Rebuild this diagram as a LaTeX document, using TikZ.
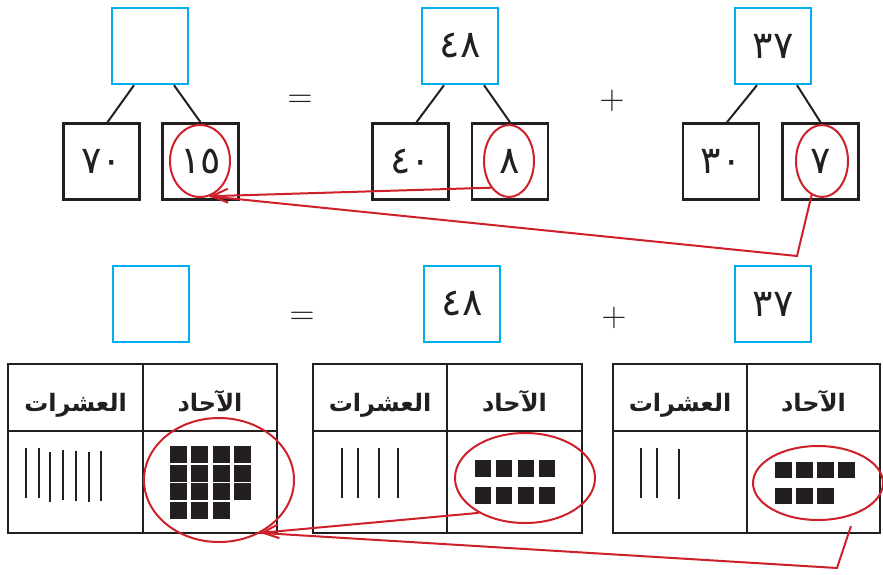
\documentclass[tikz,border=0pt]{standalone}
\usepackage{fontspec}
\usetikzlibrary{arrows.meta,calc,shapes.geometric}
\TeXXeTstate=1
\newfontfamily\arabicfont[Script=Arabic]{DejaVu Sans}
\definecolor{boxblue}{RGB}{0,174,239}
\definecolor{markred}{RGB}{206,32,41}
\definecolor{inkblack}{RGB}{35,31,32}

\begin{document}
\begin{tikzpicture}[x=0.5pt,y=-0.5pt,
  sumbox/.style={draw=boxblue,line width=1.2pt,minimum size=38pt,inner sep=0pt,text=inkblack,font=\arabicfont\fontsize{19}{22}\selectfont},
  partbox/.style={sumbox,draw=inkblack,line width=1.3pt},
  ring/.style={ellipse,draw=markred,line width=1pt,inner sep=0pt},
  link/.style={draw=markred,line width=1pt},
  arr/.style={link,-{Straight Barb[length=8pt,width=7pt]}},
  stem/.style={draw=inkblack,line width=1pt},
  tablerule/.style={draw=inkblack,line width=1.2pt},
  head/.style={anchor=base,inner sep=0pt,font=\arabicfont\bfseries\fontsize{12}{15}\selectfont,text=inkblack},
  sign/.style={font=\fontsize{16}{16}\selectfont,text=inkblack}]
  \useasboundingbox (0,0) rectangle (883,574);

  % top row: number bonds
  \node[sumbox] (sum) at (150,46) {};
  \node[sumbox] (b48) at (460,46) {٤٨};
  \node[sumbox] (b37) at (773,46) {٣٧};
  \node[partbox] (t70) at (101.5,161.5) {٧٠};
  \node[partbox] (t15) at (200.5,161.5) {١٥};
  \node[partbox] (t40) at (410.5,161.5) {٤٠};
  \node[partbox] (t8) at (510,161.5) {٨};
  \node[partbox] (t30) at (721,161.5) {٣٠};
  \node[partbox] (t7) at (820.5,161.5) {٧};
  \node[sign] (eqtop) at (300,101) {$=$};
  \node[sign] (pltop) at (612,101) {$+$};
  \foreach \s/\a/\b in {sum/t70/t15, b48/t40/t8, b37/t30/t7} {
    \draw[stem] ($(\s.south)+(-16,0)$) -- ($(\a.north)+(6,0)$);
    \draw[stem] ($(\s.south)+(24,0)$) -- ($(\b.north)+(0,0)$);
  }
  \node[ring,minimum width=30pt,minimum height=36pt] (o15) at (200,161) {};
  \node[ring,minimum width=25pt,minimum height=36pt] (o8) at (509,161) {};
  \node[ring,minimum width=26pt,minimum height=36pt] (o7) at (822,161) {};

  % bottom row: place value tables
  \node[sumbox] (sumb) at (151,304) {};
  \node[sumbox] (b48b) at (462,304) {٤٨};
  \node[sumbox] (b37b) at (773,304) {٣٧};
  \node[sign] (eqbot) at (302,318) {$=$};
  \node[sign] (plbot) at (614,318) {$+$};
  \foreach \l/\m/\r in {8/143/277, 313/447/582, 613/747/880} {
    \draw[tablerule] (\l,364) rectangle (\r,533) (\m,364) -- (\m,533) (\l,431) -- (\r,431);
    \node[head] (tens\l) at ({(\l+\m)/2},411) {\beginR العشرات\endR};
    \node[head] (ones\l) at ({(\m+\r)/2},411) {\beginR الآحاد\endR};
  }
  % tens rods
  \foreach \x/\y in {26/448, 39/448, 50/452, 63/450, 76/451, 89/452, 101/451,
      342/448, 358/448, 379/448, 398/448, 641/448, 657/448, 679/449}
    \draw[inkblack,line width=1.3pt] (\x,\y) -- (\x,\y+50);
  % ones cubes
  \foreach \i in {0,...,3} {
    \foreach \j in {0,1,2}
      \fill[inkblack] ({170+21.3*\i},{446+18.6*\j}) rectangle +(17,17);
    \fill[inkblack] ({475+21.3*\i},460) rectangle +(16,17);
    \fill[inkblack] ({475+21.3*\i},487) rectangle +(16,17);
    \fill[inkblack] ({775+21*\i},462) rectangle +(17,16);
  }
  \foreach \i in {0,1,2} {
    \fill[inkblack] ({170+21.3*\i},502) rectangle +(17,17);
    \fill[inkblack] ({775+21*\i},488) rectangle +(17,16);
  }
  \node[ring,minimum width=75pt,minimum height=62pt] (e15) at (219,480) {};
  \node[ring,minimum width=70pt,minimum height=45pt] (e8) at (525,478) {};
  \node[ring,minimum width=65pt,minimum height=37pt] (e7) at (818,483) {};

  % carrying the ones
  \coordinate (bend) at (797,256);
  \draw[arr] (o8.236) -- (o15.-75);
  \draw[link] (o7.253) -- (bend) -- (o15.-75);
  \coordinate (bendb) at (837,568);
  \draw[arr] (e8.217) -- (e15.-52);
  \draw[link] ($(e7.south)+(33,5)$) -- (bendb) -- (e15.-52);
\end{tikzpicture}
\end{document}
